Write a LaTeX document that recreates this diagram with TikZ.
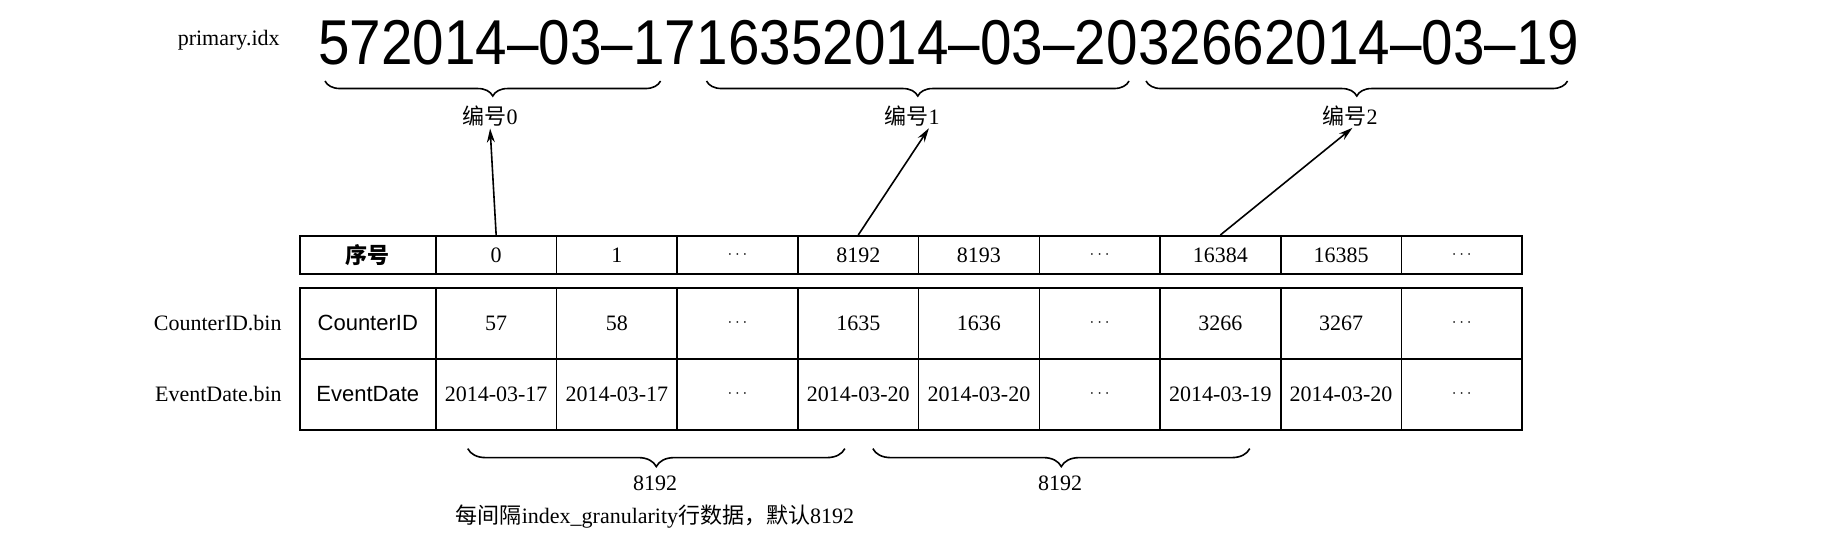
\documentclass[tikz,border=0pt]{standalone}
\usepackage{fontspec}
\usepackage{graphicx}
\setmainfont{Liberation Serif}
\setsansfont{Liberation Sans}
\newfontfamily\cjk{Noto Sans CJK SC}
\usetikzlibrary{positioning,arrows.meta,decorations.pathreplacing}

\newcommand{\skipdots}{{\fontsize{8}{8}\selectfont$\cdots$}}

\tikzset{
  cell/.style={draw,line width=0.8pt,anchor=north west,inner sep=0pt,
    minimum width=60.35pt,minimum height=35.5pt,font=\fontsize{11}{13}\selectfont},
  head/.style={cell,minimum height=19pt},
  first/.style={minimum width=68pt,font=\sffamily\fontsize{11}{13}\selectfont},
  big/.style={inner sep=0pt,anchor=base west,font=\sffamily\fontsize{28.3}{30}\selectfont},
  lbl/.style={inner sep=0pt,font=\fontsize{11}{13}\selectfont},
  brc/.style={decorate,decoration={brace,mirror,amplitude=#1},line width=0.8pt},
  arr/.style={-{Stealth[length=7pt,width=4pt]},line width=0.8pt,shorten >=1pt}
}

\begin{document}
\begin{tikzpicture}[x=0.5pt,y=-0.5pt]
    \useasboundingbox (0,0) rectangle (1822,543);
    %% primary.idx
    \node[big] (g0) at (318,64) {\scalebox{1}[1.12]{572014–03–17}};
    \node[big] (g1) at (g0.base east) {\scalebox{1}[1.12]{16352014–03–20}};
    \node[big] (g2) at (g1.base east) {\scalebox{1}[1.12]{32662014–03–19}};
    \node[lbl,anchor=base east] (pidx) at (280,45) {primary.idx};
    \draw[brc=7.5pt] ([xshift=3.5pt,yshift=-8pt]g0.south west) -- ([xshift=-18pt,yshift=-8pt]g0.south east);
    \draw[brc=7.5pt] ([xshift=5pt,yshift=-8pt]g1.south west) -- ([xshift=-4.5pt,yshift=-8pt]g1.south east);
    \draw[brc=7.5pt] ([xshift=4pt,yshift=-8pt]g2.south west) -- ([xshift=-6pt,yshift=-8pt]g2.south east);
    \node[lbl] (n0) at (490,116) {{\cjk 编号}0};
    \node[lbl] (n1) at (912,116) {{\cjk 编号}1};
    \node[lbl] (n2) at (1350,116) {{\cjk 编号}2};
    %% header row
    \node[head,first] (idx0) at (299,235) {\cjk\bfseries 序号};
    \foreach \t [count=\i] in {0,1,\skipdots,8192,8193,\skipdots,16384,16385,\skipdots}
        \node[head] (idx\i) at ({435+(\i-1)*120.7},235) {\t};
    %% data rows
    \node[cell,first] (cid0) at (299,287) {CounterID};
    \foreach \t [count=\i] in {57,58,\skipdots,1635,1636,\skipdots,3266,3267,\skipdots}
        \node[cell] (cid\i) at ({435+(\i-1)*120.7},287) {\t};
    \node[cell,first] (date0) at (299,358) {EventDate};
    \foreach \t [count=\i] in {2014-03-17,2014-03-17,\skipdots,2014-03-20,2014-03-20,\skipdots,2014-03-19,2014-03-20,\skipdots}
        \node[cell] (date\i) at ({435+(\i-1)*120.7},358) {\t};
    \node[lbl,left=8.5pt of cid0] (cfile) {CounterID.bin};
    \node[lbl,left=8.5pt of date0] (dfile) {EventDate.bin};
    %% pointers into primary.idx
    \draw[arr] (idx1.north) -- (n0.south);
    \draw[arr] (idx4.north) -- ([xshift=9pt]n1.south);
    \draw[arr] (idx7.north) -- ([xshift=2pt]n2.south);
    %% granularity
    \draw[brc=9pt] ([xshift=-14.2pt,yshift=-9pt]date1.south) -- ([xshift=-6.7pt,yshift=-9pt]date4.south);
    \draw[brc=9pt] ([xshift=7.3pt,yshift=-9pt]date4.south) -- ([xshift=14.7pt,yshift=-9pt]date7.south);
    \node[lbl] (s0) at (655,483) {8192};
    \node[lbl] (s1) at (1060,483) {8192};
    \node[lbl] (note) at (655,517) {{\cjk 每间隔}index\_granularity{\cjk 行数据，默认}8192};
\end{tikzpicture}
\end{document}
